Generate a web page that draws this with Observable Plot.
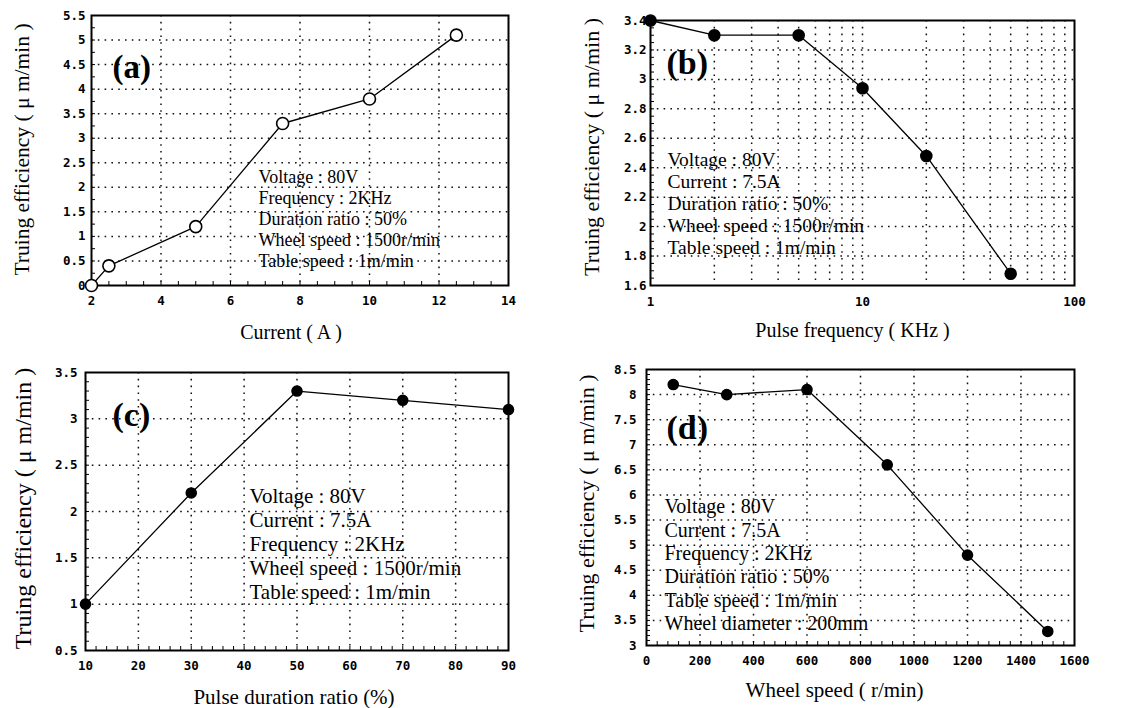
<!DOCTYPE html>
<html>
<head>
<meta charset="utf-8">
<script src="https://cdn.jsdelivr.net/npm/d3@7"></script>
<script src="https://cdn.jsdelivr.net/npm/@observablehq/plot@0.6"></script>
<style>
  body { margin: 0; background: #fff; }
  #wrap { position: relative; width: 1128px; height: 708px; overflow: hidden; }
  .panel { position: absolute; }
</style>
</head>
<body>
<div id="wrap"></div>
<script>
// ---- (a) truing efficiency vs. current ----
const currentA = [2, 2.5, 5, 7.5, 10, 12.5];
const effA = [0, 0.4, 1.2, 3.3, 3.8, 5.1];
const xTicksA = [2, 4, 6, 8, 10, 12, 14];
const yTicksA = [0, 0.5, 1, 1.5, 2, 2.5, 3, 3.5, 4, 4.5, 5, 5.5];
const notesA = ["Voltage : 80V", "Frequency : 2KHz", "Duration ratio : 50%", "Wheel speed : 1500r/min", "Table speed : 1m/min"];

// ---- (b) truing efficiency vs. pulse frequency ----
const freqB = [1, 2, 5, 10, 20, 50];
const effB = [3.4, 3.3, 3.3, 2.94, 2.48, 1.68];
const xTicksB = [1, 10, 100];
const xGridB = [2, 3, 4, 5, 6, 7, 8, 9, 10, 20, 30, 40, 50, 60, 70, 80, 90];
const yTicksB = [1.6, 1.8, 2, 2.2, 2.4, 2.6, 2.8, 3, 3.2, 3.4];
const notesB = ["Voltage : 80V", "Current : 7.5A", "Duration ratio : 50%", "Wheel speed : 1500r/min", "Table speed : 1m/min"];

// ---- (c) truing efficiency vs. pulse duration ratio ----
const ratioC = [10, 30, 50, 70, 90];
const effC = [1.0, 2.2, 3.3, 3.2, 3.1];
const xTicksC = [10, 20, 30, 40, 50, 60, 70, 80, 90];
const yTicksC = [0.5, 1, 1.5, 2, 2.5, 3, 3.5];
const notesC = ["Voltage : 80V", "Current : 7.5A", "Frequency : 2KHz", "Wheel speed : 1500r/min", "Table speed : 1m/min"];

// ---- (d) truing efficiency vs. wheel speed ----
const speedD = [100, 300, 600, 900, 1200, 1500];
const effD = [8.2, 8.0, 8.1, 6.6, 4.8, 3.28];
const xTicksD = [0, 200, 400, 600, 800, 1000, 1200, 1400, 1600];
const yTicksD = [3, 3.5, 4, 4.5, 5, 5.5, 6, 6.5, 7, 7.5, 8, 8.5];
const notesD = ["Voltage : 80V", "Current : 7.5A", "Frequency : 2KHz", "Duration ratio : 50%", "Table speed : 1m/min", "Wheel diameter : 200mm"];

const yTitle = "Truing efficiency ( \u03bc m/min )";
const W = 564, H = 354;
const serif = "'Liberation Serif', 'Times New Roman', serif";

function drawPanel(c) {
  const pts = c.xs.map((x, i) => ({x, y: c.ys[i]}));
  const m = c.m;
  const fw = W - m.left - m.right;
  const fh = H - m.top - m.bottom;
  const inner = c.xTicks.slice(1, -1);
  const dotted = {stroke: "#111", strokeWidth: 1.5, strokeDasharray: "1.6,5.2"};
  const svg = Plot.plot({
    width: W,
    height: H,
    marginLeft: m.left,
    marginRight: m.right,
    marginTop: m.top,
    marginBottom: m.bottom,
    style: {fontFamily: "'DejaVu Sans Mono', monospace", fontWeight: "bold", fontSize: "12.5px", color: "#000", background: "transparent", overflow: "visible"},
    x: {...c.xScale, label: null},
    y: {...c.yScale, label: null},
    marks: [
      Plot.ruleX(c.xGrid || inner, dotted),
      Plot.ruleY(c.yTicks.slice(1, -1), dotted),
      Plot.ruleX(c.xMinor, {stroke: "#000", strokeWidth: 1, insetTop: fh - 4}),
      Plot.ruleY(c.yMinor, {stroke: "#000", strokeWidth: 1, insetRight: fw - 4}),
      Plot.frame({stroke: "#000", strokeWidth: 2}),
      Plot.axisX(c.xTicks, {tickSize: 0, tickPadding: c.xPad, tickFormat: d => String(d), fill: "#000"}),
      Plot.axisY(c.yTicks, {tickSize: 0, tickPadding: c.yPad, tickFormat: d => String(d), fill: "#000"}),
      Plot.line(pts, {x: "x", y: "y", stroke: "#000", strokeWidth: 1.3}),
      Plot.dot(pts, {x: "x", y: "y", r: c.r, fill: c.hollow ? "#fff" : "#000", stroke: "#000", strokeWidth: 1.6}),
      Plot.text([c.tag], {frameAnchor: "top-left", dx: c.tagPos[0], dy: c.tagPos[1], textAnchor: "start", lineAnchor: "middle",
        fontFamily: serif, fontWeight: "bold", fontSize: c.tagSize, fill: "#000"}),
      Plot.text([c.notes.join("\n")], {frameAnchor: "top-left", dx: c.notePos[0], dy: c.notePos[1], textAnchor: "start", lineAnchor: "top",
        lineHeight: c.noteLead, fontFamily: serif, fontWeight: "normal", fontSize: c.noteSize, fill: "#000"}),
      Plot.text([c.xTitle], {frameAnchor: "bottom", dx: c.xTitlePos[0], dy: c.xTitlePos[1], textAnchor: "middle", lineAnchor: "middle",
        fontFamily: serif, fontWeight: "normal", fontSize: c.xTitleSize, fill: "#000"}),
      Plot.text([yTitle], {frameAnchor: "left", dx: c.yTitlePos[0], dy: c.yTitlePos[1], rotate: -90, textAnchor: "middle", lineAnchor: "middle",
        fontFamily: serif, fontWeight: "normal", fontSize: c.yTitleSize, fill: "#000"})
    ]
  });
  const box = document.createElement("div");
  box.className = "panel";
  box.style.left = c.pos[0] + "px";
  box.style.top = c.pos[1] + "px";
  box.appendChild(svg);
  document.getElementById("wrap").appendChild(box);
}

drawPanel({
  pos: [0, 0], m: {left: 91, right: 56, top: 15, bottom: 69},
  xScale: {domain: [2, 14]}, yScale: {domain: [0, 5.5]},
  xs: currentA, ys: effA, xTicks: xTicksA, yTicks: yTicksA,
  xMinor: d3.range(2.5, 14, 0.5), yMinor: d3.range(0.25, 5.5, 0.25),
  xPad: 11, yPad: 6, r: 6, hollow: true,
  tag: "(a)", tagSize: 33, tagPos: [21, 52],
  notes: notesA, noteSize: 18, noteLead: 1.16, notePos: [167, 153],
  xTitle: "Current ( A )", xTitleSize: 20, xTitlePos: [-9, 47],
  yTitleSize: 21.5, yTitlePos: [-69, -1]
});

drawPanel({
  pos: [564, 0], m: {left: 86, right: 54, top: 20, bottom: 69},
  xScale: {type: "log", domain: [1, 100]}, yScale: {domain: [1.6, 3.4]},
  xs: freqB, ys: effB, xTicks: xTicksB, yTicks: yTicksB, xGrid: xGridB,
  xMinor: [], yMinor: d3.range(1.65, 3.4, 0.05),
  xPad: 12, yPad: 4, r: 5.5, hollow: false,
  tag: "(b)", tagSize: 34, tagPos: [16, 43],
  notes: notesB, noteSize: 19.5, noteLead: 1.13, notePos: [17, 130],
  xTitle: "Pulse frequency ( KHz )", xTitleSize: 20, xTitlePos: [-10, 45],
  yTitleSize: 22, yTitlePos: [-59, -6]
});

drawPanel({
  pos: [0, 354], m: {left: 85, right: 56, top: 18, bottom: 58},
  xScale: {domain: [10, 90]}, yScale: {domain: [0.5, 3.5]},
  xs: ratioC, ys: effC, xTicks: xTicksC, yTicks: yTicksC,
  xMinor: d3.range(12, 90, 2), yMinor: d3.range(0.6, 3.5, 0.1),
  xPad: 11, yPad: 8, r: 5, hollow: false,
  tag: "(c)", tagSize: 34, tagPos: [27, 43],
  notes: notesC, noteSize: 21, noteLead: 1.15, notePos: [164, 113],
  xTitle: "Pulse duration ratio (%)", xTitleSize: 21, xTitlePos: [-3, 47],
  yTitleSize: 24, yTitlePos: [-62, -3]
});

drawPanel({
  pos: [564, 354], m: {left: 82, right: 54, top: 15, bottom: 63},
  xScale: {domain: [0, 1600]}, yScale: {domain: [3, 8.5]},
  xs: speedD, ys: effD, xTicks: xTicksD, yTicks: yTicksD,
  xMinor: d3.range(40, 1600, 40), yMinor: d3.range(3.1, 8.5, 0.1),
  xPad: 11, yPad: 10, r: 5, hollow: false,
  tag: "(d)", tagSize: 34, tagPos: [20, 59],
  notes: notesD, noteSize: 20, noteLead: 1.17, notePos: [18, 127],
  xTitle: "Wheel speed ( r/min)", xTitleSize: 21, xTitlePos: [-26, 45],
  yTitleSize: 22, yTitlePos: [-60, -4]
});
</script>
</body>
</html>
